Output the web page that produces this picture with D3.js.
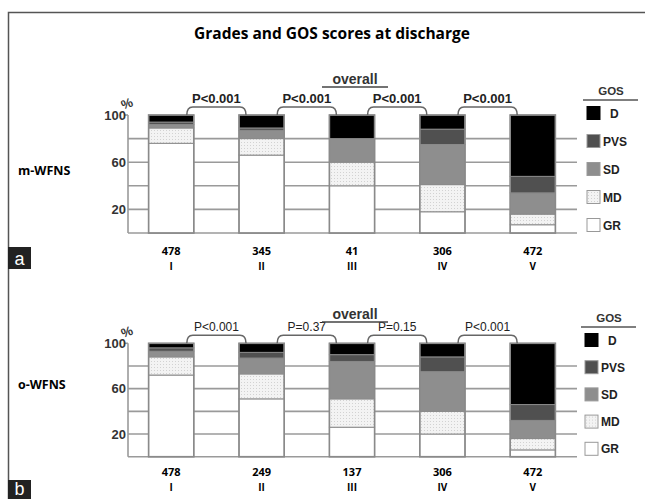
<!DOCTYPE html>
<html>
<head>
<meta charset="utf-8">
<script src="https://cdn.jsdelivr.net/npm/d3@7"></script>
<style>
  body { margin: 0; background: #fff; }
  svg { display: block; }
  text { font-family: "Liberation Sans", Arial, sans-serif; }
</style>
</head>
<body>
<div id="chart"></div>
<script>
// grades and GOS categories (stacked bottom to top)
var grades = ["I", "II", "III", "IV", "V"];
var gosKeys = ["GR", "MD", "SD", "PVS", "D"];
var legendKeys = ["D", "PVS", "SD", "MD", "GR"];
var yTicks = [20, 60, 100];
var gridVals = [20, 40, 60, 80];

// m-WFNS: % per grade, order GR, MD, SD, PVS, D
var mCounts = [478, 345, 41, 306, 472];
var mValues = [
    [76, 13, 3, 2, 6],
    [66, 14, 7, 2, 11],
    [40, 20, 20, 0, 20],
    [18, 23, 34, 13, 12],
    [7, 9, 18, 14, 52]
];
var mPvals = ["P<0.001", "P<0.001", "P<0.001", "P<0.001"];

// o-WFNS
var oCounts = [478, 249, 137, 306, 472];
var oValues = [
    [72, 16, 5, 3, 4],
    [51, 22, 14, 5, 8],
    [26, 25, 33, 6, 10],
    [20, 20, 35, 13, 12],
    [6, 10, 16, 14, 54]
];
var oPvals = ["P<0.001", "P=0.37", "P=0.15", "P<0.001"];

var width = 645, height = 499;
var svg = d3.select("#chart").append("svg")
    .attr("width", width)
    .attr("height", height);

// dotted fill for MD
var defs = svg.append("defs");
var pat = defs.append("pattern")
    .attr("id", "dots")
    .attr("width", 3).attr("height", 3)
    .attr("patternUnits", "userSpaceOnUse");
pat.append("rect").attr("width", 3).attr("height", 3).attr("fill", "#f3f3f3");
pat.append("rect").attr("x", 1).attr("y", 1).attr("width", 1).attr("height", 1).attr("fill", "#d2d2d2");

var fills = { D: "#000", PVS: "#505050", SD: "#8e8e8e", MD: "url(#dots)", GR: "#fff" };

// frame
svg.append("path")
    .attr("d", "M8.5," + height + " V12.5 H" + width)
    .attr("fill", "none")
    .attr("stroke", "#555")
    .attr("stroke-width", 1.5);

svg.append("text")
    .attr("x", 332).attr("y", 39)
    .attr("text-anchor", "middle")
    .style("font-family", "'Open Sans', sans-serif")
    .style("font-weight", 700)
    .style("font-size", "15.5px")
    .text("Grades and GOS scores at discharge");

var x = d3.scaleBand()
    .domain(grades)
    .range([126, 578])
    .paddingInner(0.5)
    .paddingOuter(0.25);

var stack = d3.stack().keys(gosKeys);

function drawPanel(p) {
    var y = d3.scaleLinear().domain([0, 100]).range([p.y0, p.y100]);
    var g = svg.append("g");
    var rows = p.values.map(function(v, i) {
        var r = { grade: grades[i] };
        gosKeys.forEach(function(k, j) { r[k] = v[j]; });
        return r;
    });

    // gridlines behind bars
    g.selectAll(".grid")
        .data(gridVals)
        .enter().append("line")
        .attr("x1", 128).attr("x2", 577)
        .attr("y1", function(d) { return y(d); })
        .attr("y2", function(d) { return y(d); })
        .attr("stroke", "#9a9a9a")
        .attr("stroke-width", 1.6);

    g.append("line")
        .attr("x1", 128).attr("x2", 577)
        .attr("y1", y(0)).attr("y2", y(0))
        .attr("stroke", "#9a9a9a").attr("stroke-width", 1.6);
    g.append("line")
        .attr("x1", 128).attr("x2", 128)
        .attr("y1", y(0)).attr("y2", y(100))
        .attr("stroke", "#9a9a9a").attr("stroke-width", 1.6);
    g.append("line")
        .attr("x1", 125).attr("x2", 128)
        .attr("y1", y(100)).attr("y2", y(100))
        .attr("stroke", "#9a9a9a").attr("stroke-width", 1.6);

    g.selectAll(".tick")
        .data(yTicks)
        .enter().append("text")
        .attr("x", 126).attr("y", function(d) { return y(d) + 4.5; })
        .attr("text-anchor", "end")
        .style("font-weight", 700)
        .style("font-size", "13px")
        .attr("fill", "#333")
        .text(function(d) { return d; });

    g.append("text")
        .attr("x", 127).attr("y", y(100) - 7)
        .attr("text-anchor", "middle")
        .style("font-weight", 700)
        .style("font-size", "13px")
        .attr("fill", "#333")
        .attr("transform", "rotate(-20," + 127 + "," + (y(100) - 11) + ")")
        .text("%");

    // stacked bars
    var series = stack(rows);
    g.selectAll(".layer")
        .data(series)
        .enter().append("g")
        .attr("fill", function(d) { return fills[d.key]; })
        .selectAll("rect")
        .data(function(d) { return d; })
        .enter().append("rect")
        .attr("x", function(d) { return x(d.data.grade); })
        .attr("width", x.bandwidth())
        .attr("y", function(d) { return y(d[1]); })
        .attr("height", function(d) { return y(d[0]) - y(d[1]); })
        .attr("stroke", "#8a8a8a")
        .attr("stroke-width", 1);

    g.selectAll(".outline")
        .data(grades)
        .enter().append("rect")
        .attr("x", function(d) { return x(d); })
        .attr("width", x.bandwidth())
        .attr("y", y(100))
        .attr("height", y(0) - y(100))
        .attr("fill", "none")
        .attr("stroke", "#8a8a8a")
        .attr("stroke-width", 1.6);

    // brackets with p values
    var by = y(100) - 8;
    p.pvals.forEach(function(t, i) {
        var x1 = x(grades[i]) + x.bandwidth() - 7;
        var x2 = x(grades[i + 1]) + 7;
        g.append("path")
            .attr("d", "M" + x1 + "," + (y(100)) + " Q" + x1 + "," + by + " " + (x1 + 6) + "," + by +
                " L" + (x2 - 6) + "," + by + " Q" + x2 + "," + by + " " + x2 + "," + (y(100)))
            .attr("fill", "none")
            .attr("stroke", "#666")
            .attr("stroke-width", 1.5);
        g.append("text")
            .attr("x", (x1 + x2) / 2).attr("y", by - 4)
            .attr("text-anchor", "middle")
            .style("font-weight", p.pBold ? 700 : 400)
            .style("font-size", p.pBold ? "13px" : "12px")
            .attr("fill", "#222")
            .text(t);
    });

    g.append("text")
        .attr("x", 355).attr("y", p.overallY)
        .attr("text-anchor", "middle")
        .style("font-weight", 700)
        .style("font-size", "14px")
        .attr("fill", "#333")
        .text("overall");
    g.append("line")
        .attr("x1", 322).attr("x2", 388)
        .attr("y1", p.overallY + 3).attr("y2", p.overallY + 3)
        .attr("stroke", "#444").attr("stroke-width", 1.5);

    // counts and grades under bars
    g.selectAll(".count")
        .data(p.counts)
        .enter().append("text")
        .attr("x", function(d, i) { return x(grades[i]) + x.bandwidth() / 2; })
        .attr("y", p.countY)
        .attr("text-anchor", "middle")
        .style("font-family", "'Open Sans', sans-serif")
        .style("font-weight", 700)
        .style("font-size", "11px")
        .text(function(d) { return d; });
    g.selectAll(".grade")
        .data(grades)
        .enter().append("text")
        .attr("x", function(d) { return x(d) + x.bandwidth() / 2; })
        .attr("y", p.countY + 15)
        .attr("text-anchor", "middle")
        .style("font-family", "'Open Sans', sans-serif")
        .style("font-weight", 700)
        .style("font-size", "10px")
        .text(function(d) { return d; });

    g.append("text")
        .attr("x", 18).attr("y", p.nameY)
        .style("font-family", "'Open Sans', sans-serif")
        .style("font-weight", 700)
        .style("font-size", "12.5px")
        .text(p.name);

    // legend
    var lg = g.append("g");
    lg.append("text")
        .attr("x", p.legX + 24).attr("y", p.legY - 18)
        .attr("text-anchor", "middle")
        .style("font-weight", 700)
        .style("font-size", "11.5px")
        .attr("fill", "#333")
        .text("GOS");
    lg.append("line")
        .attr("x1", p.legX - 4).attr("x2", p.legX + 51)
        .attr("y1", p.legY - 13).attr("y2", p.legY - 13)
        .attr("stroke", "#555").attr("stroke-width", 1.3);
    var item = lg.selectAll(".item")
        .data(legendKeys)
        .enter().append("g")
        .attr("transform", function(d, i) { return "translate(" + p.legX + "," + (p.legY + i * p.legStep) + ")"; });
    item.append("rect")
        .attr("x", 0).attr("y", -6.5)
        .attr("width", 13).attr("height", 13)
        .attr("fill", function(d) { return fills[d]; })
        .attr("stroke", function(d) { return d === "D" ? "#000" : "#999"; })
        .attr("stroke-width", 1);
    item.append("text")
        .attr("x", function(d) { return d === "D" ? 23 : 16; })
        .attr("y", 4.5)
        .style("font-weight", 700)
        .style("font-size", "12px")
        .attr("fill", "#222")
        .text(function(d) { return d; });

    // panel letter
    g.append("rect")
        .attr("x", 8).attr("y", p.letterY)
        .attr("width", 23).attr("height", p.letterH)
        .attr("fill", "#222");
    g.append("text")
        .attr("x", 19.5).attr("y", p.letterY + p.letterH - 4)
        .attr("text-anchor", "middle")
        .attr("fill", "#fff")
        .style("font-size", "18px")
        .text(p.letter);
}

drawPanel({
    values: mValues, counts: mCounts, pvals: mPvals, pBold: true,
    y0: 233, y100: 115, overallY: 84, countY: 255, nameY: 175,
    name: "m-WFNS", legX: 587, legY: 113, legStep: 28, letter: "a", letterY: 247, letterH: 22
});
drawPanel({
    values: oValues, counts: oCounts, pvals: oPvals, pBold: false,
    y0: 456.7, y100: 343.3, overallY: 319, countY: 476, nameY: 389,
    name: "o-WFNS", legX: 585, legY: 340, legStep: 27.2, letter: "b", letterY: 480, letterH: 19
});
</script>
</body>
</html>
